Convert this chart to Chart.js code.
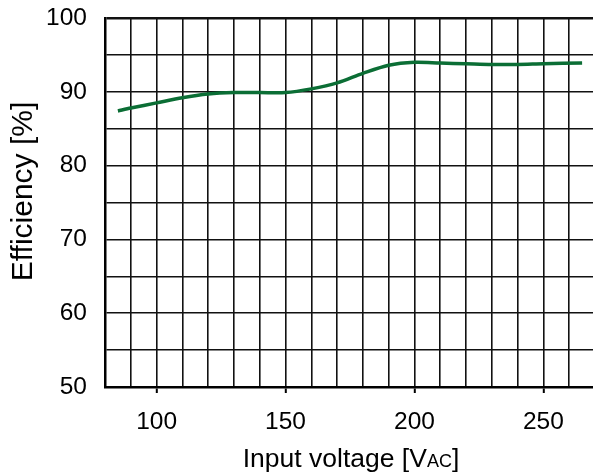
<!DOCTYPE html>
<html><head><meta charset="utf-8">
<script src="https://cdn.jsdelivr.net/npm/chart.js@4/dist/chart.umd.min.js"></script>
<style>html,body{margin:0;padding:0;background:#fff;overflow:hidden;width:593px;height:474px}
#wrap{position:relative;width:609px;height:474px}</style>
</head><body><div id="wrap"><canvas id="c" width="609" height="474"></canvas></div>
<script>
const voltages = [85, 90, 100, 110, 120, 130, 140, 150, 160, 170, 180, 190, 200, 210, 220, 230, 240, 250, 265];
const efficiency = [87.4, 87.8, 88.5, 89.2, 89.7, 89.9, 89.9, 89.9, 90.4, 91.2, 92.5, 93.6, 94.0, 93.9, 93.8, 93.7, 93.7, 93.8, 93.9];
const xTickLabels = [100, 150, 200, 250];
const yTickLabels = [50, 60, 70, 80, 90, 100];
const xTitleParts = ['Input voltage [V', 'AC', ']'];
const yTitle = 'Efficiency [%]';

const FONT = '"Liberation Sans", Arial, sans-serif';

const titlePlugin = {
  id: 'titles',
  afterDraw(chart) {
    const ctx = chart.ctx;
    ctx.save();
    ctx.fillStyle = '#000';
    ctx.textBaseline = 'alphabetic';
    ctx.textAlign = 'left';
    const fonts = ['26.5px ' + FONT, '18px ' + FONT, '26.5px ' + FONT];
    let widths = xTitleParts.map((t, i) => { ctx.font = fonts[i]; return ctx.measureText(t).width; });
    const total = widths.reduce((s, w) => s + w, 0);
    let x = 351 - total / 2;
    const y = 467;
    xTitleParts.forEach((t, i) => { ctx.font = fonts[i]; ctx.fillText(t, x, y); x += widths[i]; });
    ctx.translate(32, 191.5);
    ctx.rotate(-Math.PI / 2);
    ctx.textAlign = 'center';
    ctx.font = '30px ' + FONT;
    ctx.fillText(yTitle, 0, 0);
    ctx.restore();
  }
};

new Chart(document.getElementById('c'), {
  type: 'line',
  data: {
    datasets: [{
      data: voltages.map((v, i) => ({ x: v, y: efficiency[i] })),
      borderColor: '#0b6e35',
      borderWidth: 3.5,
      pointRadius: 0,
      tension: 0.3,
      fill: false
    }]
  },
  options: {
    responsive: false,
    animation: false,
    devicePixelRatio: 1,
    layout: { padding: { top: 18, left: 0, right: 14, bottom: 0 } },
    plugins: { legend: { display: false }, tooltip: { enabled: false } },
    scales: {
      x: {
        type: 'linear', min: 80, max: 270,
        afterFit(s) { s.height = 87; s.paddingLeft = 0; s.paddingRight = 0; },
        ticks: {
          stepSize: 10, autoSkip: false, maxRotation: 0,
          callback: v => xTickLabels.includes(v) ? String(v) : '',
          font: { family: FONT, size: 24.5 }, color: '#000', padding: 15
        },
        grid: {
          color: '#111', lineWidth: 1.6, tickLength: 6,
          tickColor: c => (c.tick && xTickLabels.includes(c.tick.value)) ? '#000' : 'rgba(0,0,0,0)',
          tickWidth: 2
        },
        border: { color: '#000', width: 2.5 }
      },
      y: {
        min: 50, max: 100,
        afterFit(s) { s.width = 105; s.paddingTop = 0; s.paddingBottom = 0; },
        ticks: {
          stepSize: 5, autoSkip: false,
          callback: v => yTickLabels.includes(v) ? String(v) : '',
          font: { family: FONT, size: 24.5 }, color: '#000', padding: 18
        },
        grid: {
          drawTicks: false,
          color: '#111',
          lineWidth: c => (c.tick && c.tick.value === 100) ? 2.5 : 1.6
        },
        border: { color: '#000', width: 2.5 }
      }
    }
  },
  plugins: [titlePlugin]
});
</script></body></html>
